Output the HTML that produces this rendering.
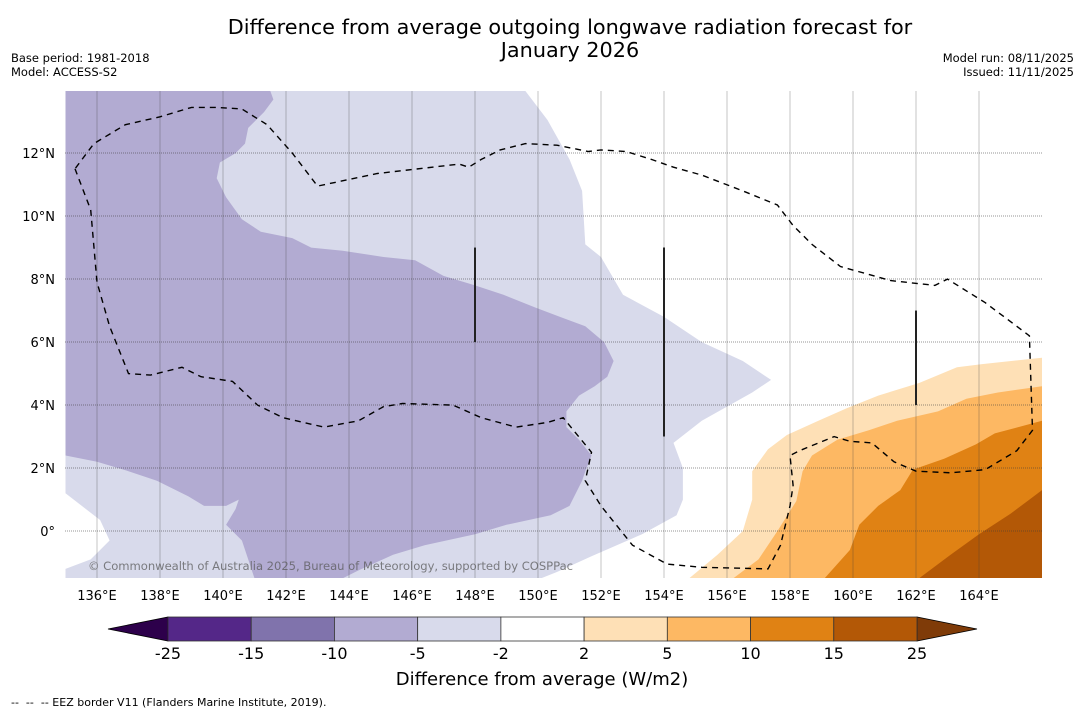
<!DOCTYPE html>
<html><head><meta charset="utf-8"><style>
body{margin:0;background:#fff;width:1085px;height:713px;overflow:hidden;font-family:"DejaVu Sans","Liberation Sans",sans-serif}
svg text{font-family:"DejaVu Sans","Liberation Sans",sans-serif}
</style></head><body>
<svg id="chart" width="1085" height="713" xmlns="http://www.w3.org/2000/svg">
<text x="570" y="34" font-size="20.8" text-anchor="middle">Difference from average outgoing longwave radiation forecast for</text>
<text x="570" y="57" font-size="20.8" text-anchor="middle">January 2026</text>
<text x="11" y="62" font-size="11.5">Base period: 1981-2018</text>
<text x="11" y="76" font-size="11.5">Model: ACCESS-S2</text>
<text x="1074" y="62" font-size="11.5" text-anchor="end">Model run: 08/11/2025</text>
<text x="1074" y="76" font-size="11.5" text-anchor="end">Issued: 11/11/2025</text>
<defs><clipPath id="mapclip"><rect x="65" y="91" width="977" height="487"/></clipPath></defs>
<g id="map" clip-path="url(#mapclip)"></g>
<g id="axes"></g>
<g id="cbar"></g>
<text x="542" y="685" font-size="18" text-anchor="middle">Difference from average (W/m2)</text>
<text x="11" y="706" font-size="11" xml:space="preserve" style="white-space:pre">--  --  -- EEZ border V11 (Flanders Marine Institute, 2019).</text>
</svg>
<script>
// axis: lon/lat -> pixels
const LON0=135, LAT_TOP=13.97, PX=31.5;
function X(lon){return 65.5+(lon-LON0)*PX;}
function Y(lat){return 91+(LAT_TOP-lat)*PX;}
const lonTicks=[136,138,140,142,144,146,148,150,152,154,156,158,160,162,164];
const latTicks=[0,2,4,6,8,10,12];
const cbBounds=[-25,-15,-10,-5,-2,2,5,10,15,25];
const cbColors=["#542788","#8073ac","#b2abd2","#d8daeb","#ffffff","#fee0b6","#fdb863","#e08214","#b35806"];
const cbUnder="#2d004b", cbOver="#7f3b08";
// contour regions, [lon,lat] pairs
const lightPurple=[[135,13.97],[149.6,13.97],[150.3,13.05],[151,11.8],[151.4,10.8],[151.5,9.1],[152,8.7],[152.7,7.5],[154,6.8],[155.2,6.0],[156.5,5.4],[157.4,4.8],[156.8,4.4],[155.2,3.5],[154.3,2.8],[154.6,2.0],[154.6,1.0],[154.4,0.5],[153.3,-0.1],[151.7,-0.8],[150.6,-1.3],[150.1,-1.5],[135,-1.5]];
const whiteSW=[[135,1.2],[136.1,0.35],[136.4,-0.3],[135.8,-0.9],[135,-1.2]];
const darkPurple=[[135,13.97],[141.5,13.97],[141.6,13.7],[141.3,13.3],[140.8,12.8],[140.7,12.3],[140.4,12.0],[139.9,11.7],[139.8,11.2],[140.1,10.6],[140.6,9.9],[141.2,9.5],[142.2,9.3],[142.8,9.0],[143.8,8.9],[145.1,8.7],[146.1,8.6],[147,8.1],[148,7.8],[148.9,7.5],[149.9,7.1],[150.7,6.8],[151.5,6.5],[152.1,6.0],[152.4,5.4],[152.2,4.9],[151.8,4.6],[151.3,4.3],[150.9,3.8],[150.9,3.3],[151.3,2.9],[151.7,2.4],[151.5,1.9],[151.4,1.6],[151,0.8],[150.4,0.5],[149,0.2],[148,-0.1],[146.4,-0.45],[145.4,-0.75],[144.3,-1.25],[143.8,-1.5],[141,-1.5],[140.8,-0.9],[140.6,-0.3],[140.1,0.2],[140.4,0.7],[140.5,1.0],[140.1,0.8],[139.4,0.8],[138.9,1.1],[137.9,1.6],[137,1.9],[136,2.2],[135,2.4]];
const orange1=[[154.8,-1.5],[155.7,-0.75],[156.5,0.0],[156.8,1.0],[156.8,1.9],[157.3,2.6],[157.9,3.05],[158.9,3.5],[159.8,3.9],[160.8,4.3],[162.1,4.7],[163.3,5.2],[164.1,5.3],[166,5.5],[166,-1.5]];
const orange2=[[156.2,-1.5],[157,-0.9],[157.6,0.0],[158.2,0.95],[158.4,1.9],[158.7,2.4],[159.5,2.9],[160.5,3.2],[161.4,3.5],[162.7,3.8],[163.6,4.2],[164.6,4.4],[166,4.6],[166,-1.5]];
const orange3=[[159.1,-1.5],[159.9,-0.6],[160.2,0.2],[160.8,0.8],[161.5,1.3],[161.9,1.95],[162.9,2.3],[163.9,2.75],[164.5,3.1],[166,3.5],[166,-1.5]];
const orange4=[[162.1,-1.5],[163.1,-0.75],[164,-0.1],[165,0.55],[165.6,1.0],[166,1.3],[166,-1.5]];
const eez=[[135.3,11.5],[135.8,10.2],[136,7.9],[136.4,6.5],[137,5.0],[137.7,4.95],[138.7,5.2],[139.3,4.9],[140.3,4.75],[141.1,4.0],[141.9,3.6],[143.2,3.3],[144.3,3.5],[145.1,3.95],[145.7,4.05],[147.3,4.0],[148.2,3.6],[149.3,3.3],[150.3,3.45],[150.8,3.6],[151.7,2.5],[151.5,1.6],[152,0.8],[153,-0.45],[154.1,-1.05],[155.2,-1.15],[157.3,-1.2],[157.7,-0.45],[158,0.8],[158.1,1.45],[158,2.4],[158.3,2.55],[159.4,3.0],[159.9,2.85],[160.6,2.8],[161.3,2.2],[162,1.9],[163.1,1.85],[164.2,1.95],[165.2,2.55],[165.7,3.2],[165.6,6.2],[164.2,7.25],[163,8.0],[162.6,7.8],[161.2,7.95],[159.6,8.4],[158.7,9.1],[158.1,9.7],[157.6,10.35],[156.5,10.8],[155.2,11.3],[154.3,11.55],[153.6,11.8],[152.8,12.05],[152,12.1],[151.6,12.05],[150.6,12.25],[149.6,12.3],[148.8,12.1],[148.2,11.8],[147.8,11.55],[147.5,11.65],[144.9,11.35],[143,10.95],[142.2,12.0],[141.4,12.9],[140.6,13.4],[139.8,13.45],[139,13.45],[138,13.15],[136.9,12.9],[135.9,12.3],[135.3,11.5]];
const segLon=[148,154,162], segLat0=[6,3,4], segLat1=[9,9,7];

const NS="http://www.w3.org/2000/svg";
function mk(tag,attrs,parent){const e=document.createElementNS(NS,tag);for(const k in attrs)e.setAttribute(k,attrs[k]);parent.appendChild(e);return e;}
function pts(a){return a.map(p=>X(p[0]).toFixed(1)+","+Y(p[1]).toFixed(1)).join(" ");}
const map=document.getElementById('map');
const regions=[[lightPurple,"#d8daeb","region-minus5-minus2"],[darkPurple,"#b2abd2","region-minus10-minus5"],[whiteSW,"#ffffff","region-near-average-sw"],[orange1,"#fee0b6","region-2-5"],[orange2,"#fdb863","region-5-10"],[orange3,"#e08214","region-10-15"],[orange4,"#b35806","region-15-25"]];
regions.forEach(r=>{const p=mk('polygon',{points:pts(r[0]),fill:r[1]},map);

});
// gridlines
lonTicks.forEach(l=>{const g=mk('line',{x1:X(l),x2:X(l),y1:91,y2:578,stroke:"rgba(60,60,60,0.3)","stroke-width":1},map);

});
latTicks.forEach(l=>{const g=mk('line',{x1:65,x2:1042,y1:Y(l),y2:Y(l),stroke:"rgba(60,60,60,0.55)","stroke-width":1,"stroke-dasharray":"1,1"},map);

});
const e=mk('polyline',{points:pts(eez),fill:"none",stroke:"#000","stroke-width":1.4,"stroke-dasharray":"6,5"},map);


segLon.forEach((l,i)=>{const s=mk('line',{x1:X(l),x2:X(l),y1:Y(segLat1[i]),y2:Y(segLat0[i]),stroke:"#222","stroke-width":2},map);

});
const cp=mk('text',{x:88,y:570,"font-size":11.6,fill:"rgba(90,90,90,0.75)",textLength:485},map);
cp.textContent="© Commonwealth of Australia 2025, Bureau of Meteorology, supported by COSPPac";


// axes labels
const ax=document.getElementById('axes');
lonTicks.forEach(l=>{const t=mk('text',{x:X(l),y:600,"font-size":13,"text-anchor":"middle"},ax);t.textContent=l+"°E";

});
latTicks.forEach(l=>{const t=mk('text',{x:55,y:Y(l)+5,"font-size":13,"text-anchor":"end"},ax);t.textContent=l===0?"0°":l+"°N";

});
// colorbar
const cb=document.getElementById('cbar');
const CB0=168, CB1=917, CBY=617, CBH=24;
function CX(i){return CB0+(CB1-CB0)*i/(cbBounds.length-1);}
const u=mk('polygon',{points:`${CB0},${CBY} ${CB0},${CBY+CBH} 108,${CBY+CBH/2}`,fill:cbUnder,stroke:"#000","stroke-width":0.8},cb);


const o=mk('polygon',{points:`${CB1},${CBY} ${CB1},${CBY+CBH} 977,${CBY+CBH/2}`,fill:cbOver,stroke:"#000","stroke-width":0.8},cb);


cbColors.forEach((c,i)=>{const r=mk('rect',{x:CX(i),y:CBY,width:CX(i+1)-CX(i),height:CBH,fill:c,stroke:"#333","stroke-width":0.8},cb);

});
cbBounds.forEach((v,i)=>{const t=mk('text',{x:CX(i),y:659,"font-size":16,"text-anchor":"middle"},cb);t.textContent=v;

});
</script>
</body></html>
